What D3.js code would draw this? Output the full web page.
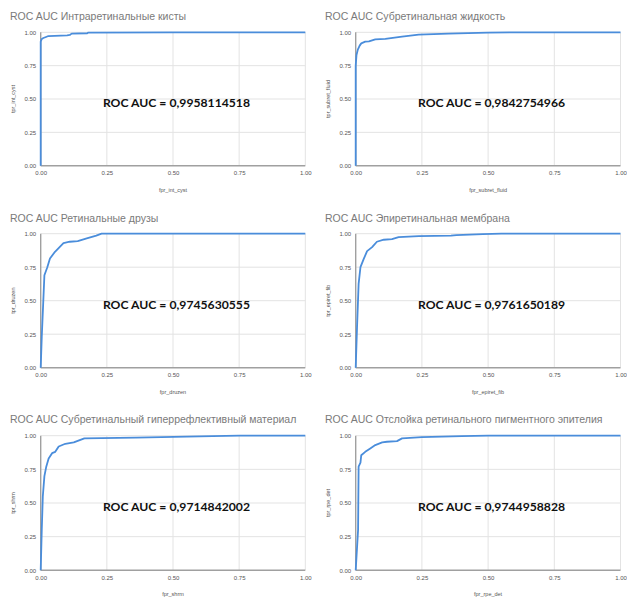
<!DOCTYPE html>
<html>
<head>
<meta charset="utf-8">
<script src="https://cdn.jsdelivr.net/npm/d3@7"></script>
<style>
  html, body { margin: 0; padding: 0; background: #fff; }
  svg { display: block; }
</style>
</head>
<body>
<svg id="chart" width="627" height="597"></svg>
<script>
// Panel texts
const titles = [
  "ROC AUC Интраретинальные кисты",
  "ROC AUC Субретинальная жидкость",
  "ROC AUC Ретинальные друзы",
  "ROC AUC Эпиретинальная мембрана",
  "ROC AUC Субретинальный гиперрефлективный материал",
  "ROC AUC Отслойка ретинального пигментного эпителия"
];
const xLabels = ["fpr_int_cyst", "fpr_subret_fluid", "fpr_druzen", "fpr_epiret_fib", "fpr_shrm", "fpr_rpe_det"];
const yLabels = ["tpr_int_cyst", "tpr_subret_fluid", "tpr_druzen", "tpr_epiret_fib", "tpr_shrm", "tpr_rpe_det"];
const aucValues = [0.9958114518, 0.9842754966, 0.9745630555, 0.9761650189, 0.9714842002, 0.9744958828];
const tickValues = [0, 0.25, 0.5, 0.75, 1];

// ROC curves as [fpr, tpr] pairs
const rocIntCyst = [[0,0],[0,0.93],[0.004,0.95],[0.01,0.957],[0.02,0.965],[0.029,0.972],[0.10,0.977],[0.11,0.98],[0.117,0.99],[0.176,0.993],[0.18,0.998],[0.5,1],[1,1]];
const rocSubretFluid = [[0,0],[0,0.75],[0.003,0.83],[0.008,0.87],[0.015,0.90],[0.021,0.917],[0.036,0.93],[0.05,0.932],[0.074,0.947],[0.112,0.95],[0.175,0.967],[0.238,0.983],[0.35,0.99],[0.5,0.997],[0.6,1],[1,1]];
const rocDruzen = [[0,0],[0.004,0.23],[0.014,0.69],[0.025,0.75],[0.035,0.815],[0.054,0.865],[0.086,0.93],[0.11,0.94],[0.14,0.945],[0.174,0.965],[0.21,0.985],[0.23,1],[1,1]];
const rocEpiretFib = [[0,0],[0.005,0.30],[0.011,0.625],[0.018,0.75],[0.03,0.81],[0.043,0.87],[0.062,0.90],[0.08,0.94],[0.106,0.955],[0.137,0.96],[0.162,0.975],[0.238,0.982],[0.36,0.986],[0.38,0.99],[0.48,0.997],[0.55,1],[1,1]];
const rocShrm = [[0,0],[0.004,0.30],[0.008,0.55],[0.014,0.70],[0.021,0.77],[0.03,0.83],[0.043,0.87],[0.055,0.88],[0.068,0.92],[0.093,0.94],[0.125,0.95],[0.165,0.98],[0.36,0.985],[0.6,0.995],[0.75,1],[1,1]];
const rocRpeDet = [[0,0],[0.009,0.30],[0.011,0.77],[0.018,0.80],[0.021,0.855],[0.036,0.88],[0.055,0.905],[0.074,0.93],[0.10,0.95],[0.118,0.955],[0.156,0.96],[0.175,0.98],[0.25,0.99],[0.4,0.997],[0.5,1],[1,1]];
const curves = [rocIntCyst, rocSubretFluid, rocDruzen, rocEpiretFib, rocShrm, rocRpeDet];

// Grid layout: two columns, three rows of small multiples
const colLeft = [40.7, 355.7];
const colRight = [305.3, 620.5];
const rowTop = [32.3, 233.7, 435.7];
const rowBottom = [165.7, 367.7, 570.3];
const titleBase = [20, 221.7, 423.3];
const titleX = [10, 325];

const svg = d3.select("#chart");
const fmt = d3.format(".2f");

titles.forEach((title, i) => {
  const col = i % 2, row = Math.floor(i / 2);
  const x = d3.scaleLinear().domain([0, 1]).range([colLeft[col], colRight[col]]);
  const y = d3.scaleLinear().domain([0, 1]).range([rowBottom[row], rowTop[row]]);
  const g = svg.append("g");

  // title
  g.append("text")
    .attr("x", titleX[col]).attr("y", titleBase[row])
    .attr("font-family", "Liberation Sans, Arial, sans-serif")
    .attr("font-size", 10.5).attr("fill", "#7a7a7a")
    .text(title);

  // gridlines
  g.selectAll(".vg").data(tickValues.slice(1)).join("line")
    .attr("x1", d => x(d)).attr("x2", d => x(d))
    .attr("y1", y(0)).attr("y2", y(1))
    .attr("stroke", "#e3e3e3").attr("stroke-width", 1);
  g.selectAll(".hg").data(tickValues.slice(1)).join("line")
    .attr("x1", x(0)).attr("x2", x(1))
    .attr("y1", d => y(d)).attr("y2", d => y(d))
    .attr("stroke", "#e3e3e3").attr("stroke-width", 1);

  // axes
  const xa = g.append("g").attr("transform", `translate(0,${y(0)})`)
    .call(d3.axisBottom(x).tickValues(tickValues).tickFormat(fmt).tickSize(0).tickPadding(5));
  const ya = g.append("g").attr("transform", `translate(${x(0)},0)`)
    .call(d3.axisLeft(y).tickValues(tickValues).tickFormat(fmt).tickSize(0).tickPadding(4.5));
  [xa, ya].forEach(a => {
    a.select(".domain").remove();
    a.selectAll("text")
      .attr("font-family", "Liberation Sans, Arial, sans-serif")
      .attr("font-size", 6).attr("fill", "#555");
  });

  // zero baselines
  g.append("line").attr("x1", x(0)).attr("x2", x(1)).attr("y1", y(0)).attr("y2", y(0))
    .attr("stroke", "#a0a0a0").attr("stroke-width", 1.4);
  g.append("line").attr("x1", x(0)).attr("x2", x(0)).attr("y1", y(0)).attr("y2", y(1))
    .attr("stroke", "#a0a0a0").attr("stroke-width", 1.4);

  // axis titles
  g.append("text")
    .attr("x", (x(0) + x(1)) / 2).attr("y", y(0) + 26)
    .attr("text-anchor", "middle")
    .attr("font-family", "Liberation Sans, Arial, sans-serif")
    .attr("font-size", 5.5).attr("fill", "#555")
    .text(xLabels[i]);
  g.append("text")
    .attr("transform", `translate(${titleX[col] + 5},${(y(0) + y(1)) / 2}) rotate(-90)`)
    .attr("text-anchor", "middle")
    .attr("font-family", "Liberation Sans, Arial, sans-serif")
    .attr("font-size", 5.5).attr("fill", "#555")
    .text(yLabels[i]);

  // ROC curve
  g.append("path")
    .datum(curves[i])
    .attr("fill", "none")
    .attr("stroke", "#4a8ddb")
    .attr("stroke-width", 1.8)
    .attr("stroke-linejoin", "round")
    .attr("d", d3.line().x(d => x(d[0])).y(d => y(d[1])));

  // AUC annotation
  g.append("text")
    .attr("x", x(0.235)).attr("y", y(0.44))
    .attr("font-family", "Lato, sans-serif")
    .attr("font-weight", "bold")
    .attr("font-size", 12.2).attr("fill", "#111")
    .text("ROC AUC = " + String(aucValues[i]).replace(".", ","));
});
</script>
</body>
</html>
